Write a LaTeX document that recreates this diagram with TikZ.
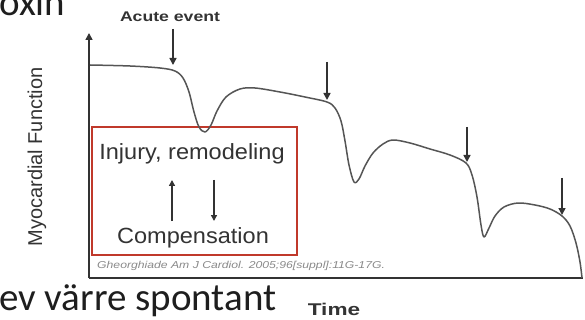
\documentclass[tikz,border=0pt]{standalone}
\usepackage{fontspec}
\setmainfont{Liberation Sans}
\newfontfamily\slidefont{Carlito}
\usetikzlibrary{arrows.meta}
\definecolor{axisgray}{HTML}{333333}
\definecolor{curvegray}{HTML}{555555}
\definecolor{boxred}{HTML}{C0392B}
\definecolor{textgray}{HTML}{333333}
\definecolor{citegray}{HTML}{8A8A8A}
\definecolor{slideblack}{HTML}{1E1E1E}
\tikzset{
  axisline/.style={draw=axisgray, line width=1.6pt},
  curveline/.style={draw=curvegray, line width=1.5pt, line join=round},
  eventarrow/.style={draw=axisgray, line width=1.5pt, -{Triangle[width=7pt,length=7pt]}},
  looparrow/.style={draw=axisgray, line width=1.4pt, -{Triangle[width=6pt,length=6pt]}},
  redbox/.style={draw=boxred, line width=2.4pt},
  lbl/.style={inner sep=0pt, text=textgray},
  slidetext/.style={inner sep=0pt, text=slideblack, font=\slidefont\fontsize{39}{44}\selectfont},
}
\begin{document}
\begin{tikzpicture}[x=1pt,y=-1pt]
\useasboundingbox (0,0) rectangle (585,320);
\fill[white] (0,0) rectangle (585,320);
% slide overlay text
\node[slidetext, anchor=base west] (oxin) at (-1,16) {oxin};
\node[slidetext, anchor=base west] (spont) at (-1,310) {ev värre spontant};
% axes
\coordinate (origin) at (89,278);
\coordinate (ytop) at (89,33);
\coordinate (xend) at (583,278);
\draw[axisline, -{Triangle[width=7pt,length=7pt]}] (origin) -- (ytop);
\draw[axisline] (origin) -- (xend);
% red box
\node[redbox, minimum width=205pt, minimum height=128pt, inner sep=0pt, anchor=north west] (box) at (91,126) {};
% curve
\draw[curveline] plot[smooth, tension=0.55] coordinates {
 (90,65) (130,66) (160,68) (175,71) (183,78) (189,92) (194,112) (199,127) (205,132)
 (211,125) (217,111) (226,97) (240,89) (255,88) (280,92) (305,97) (327,102)
 (335,108) (341,121) (345,141) (349,165) (354,182) (359,179) (365,166) (373,153)
 (383,144) (393,140) (410,143) (430,149) (450,155) (466,163) (472,175) (477,197)
 (481,225) (484,237) (489,228) (495,216) (504,207) (518,203) (535,205) (550,209)
 (562,216) (570,226) (576,243) (580,262) (582,278)};
% event arrows
\coordinate (a1s) at (173,29); \coordinate (a1e) at (173,65);
\coordinate (a2s) at (327,62); \coordinate (a2e) at (327,100);
\coordinate (a3s) at (467,127); \coordinate (a3e) at (467,162);
\coordinate (a4s) at (562,178); \coordinate (a4e) at (562,215);
\draw[eventarrow] (a1s) -- (a1e);
\draw[eventarrow] (a2s) -- (a2e);
\draw[eventarrow] (a3s) -- (a3e);
\draw[eventarrow] (a4s) -- (a4e);
% labels
\node[lbl, font=\bfseries\fontsize{14}{16}\selectfont] (acute) at (170,17) {\scalebox{1.26}[1]{Acute event}};
\node[lbl, font=\bfseries\fontsize{17}{20}\selectfont] (time) at (334,309) {\scalebox{1.33}[1]{Time}};
\node[lbl, font=\fontsize{20}{24}\selectfont] (ylab) at (37,157) {\rotatebox{90}{Myocardial Function}};
\node[lbl, font=\fontsize{22}{26}\selectfont] (injury) at (192,154) {\scalebox{1.07}[1]{Injury, remodeling}};
\node[lbl, font=\fontsize{22}{26}\selectfont] (comp) at (193,238) {\scalebox{1.07}[1]{Compensation}};
\node[lbl, text=citegray, font=\itshape\fontsize{10}{12}\selectfont, anchor=west] (cite) at (97,266) {\scalebox{1.22}[1]{Gheorghiade Am J Cardiol. 2005;96[suppl]:11G-17G.}};
% feedback arrows inside box
\coordinate (upS) at (172,221); \coordinate (upE) at (172,180);
\coordinate (dnS) at (214,180); \coordinate (dnE) at (214,221);
\draw[looparrow] (upS) -- (upE);
\draw[looparrow] (dnS) -- (dnE);
\end{tikzpicture}
\end{document}
